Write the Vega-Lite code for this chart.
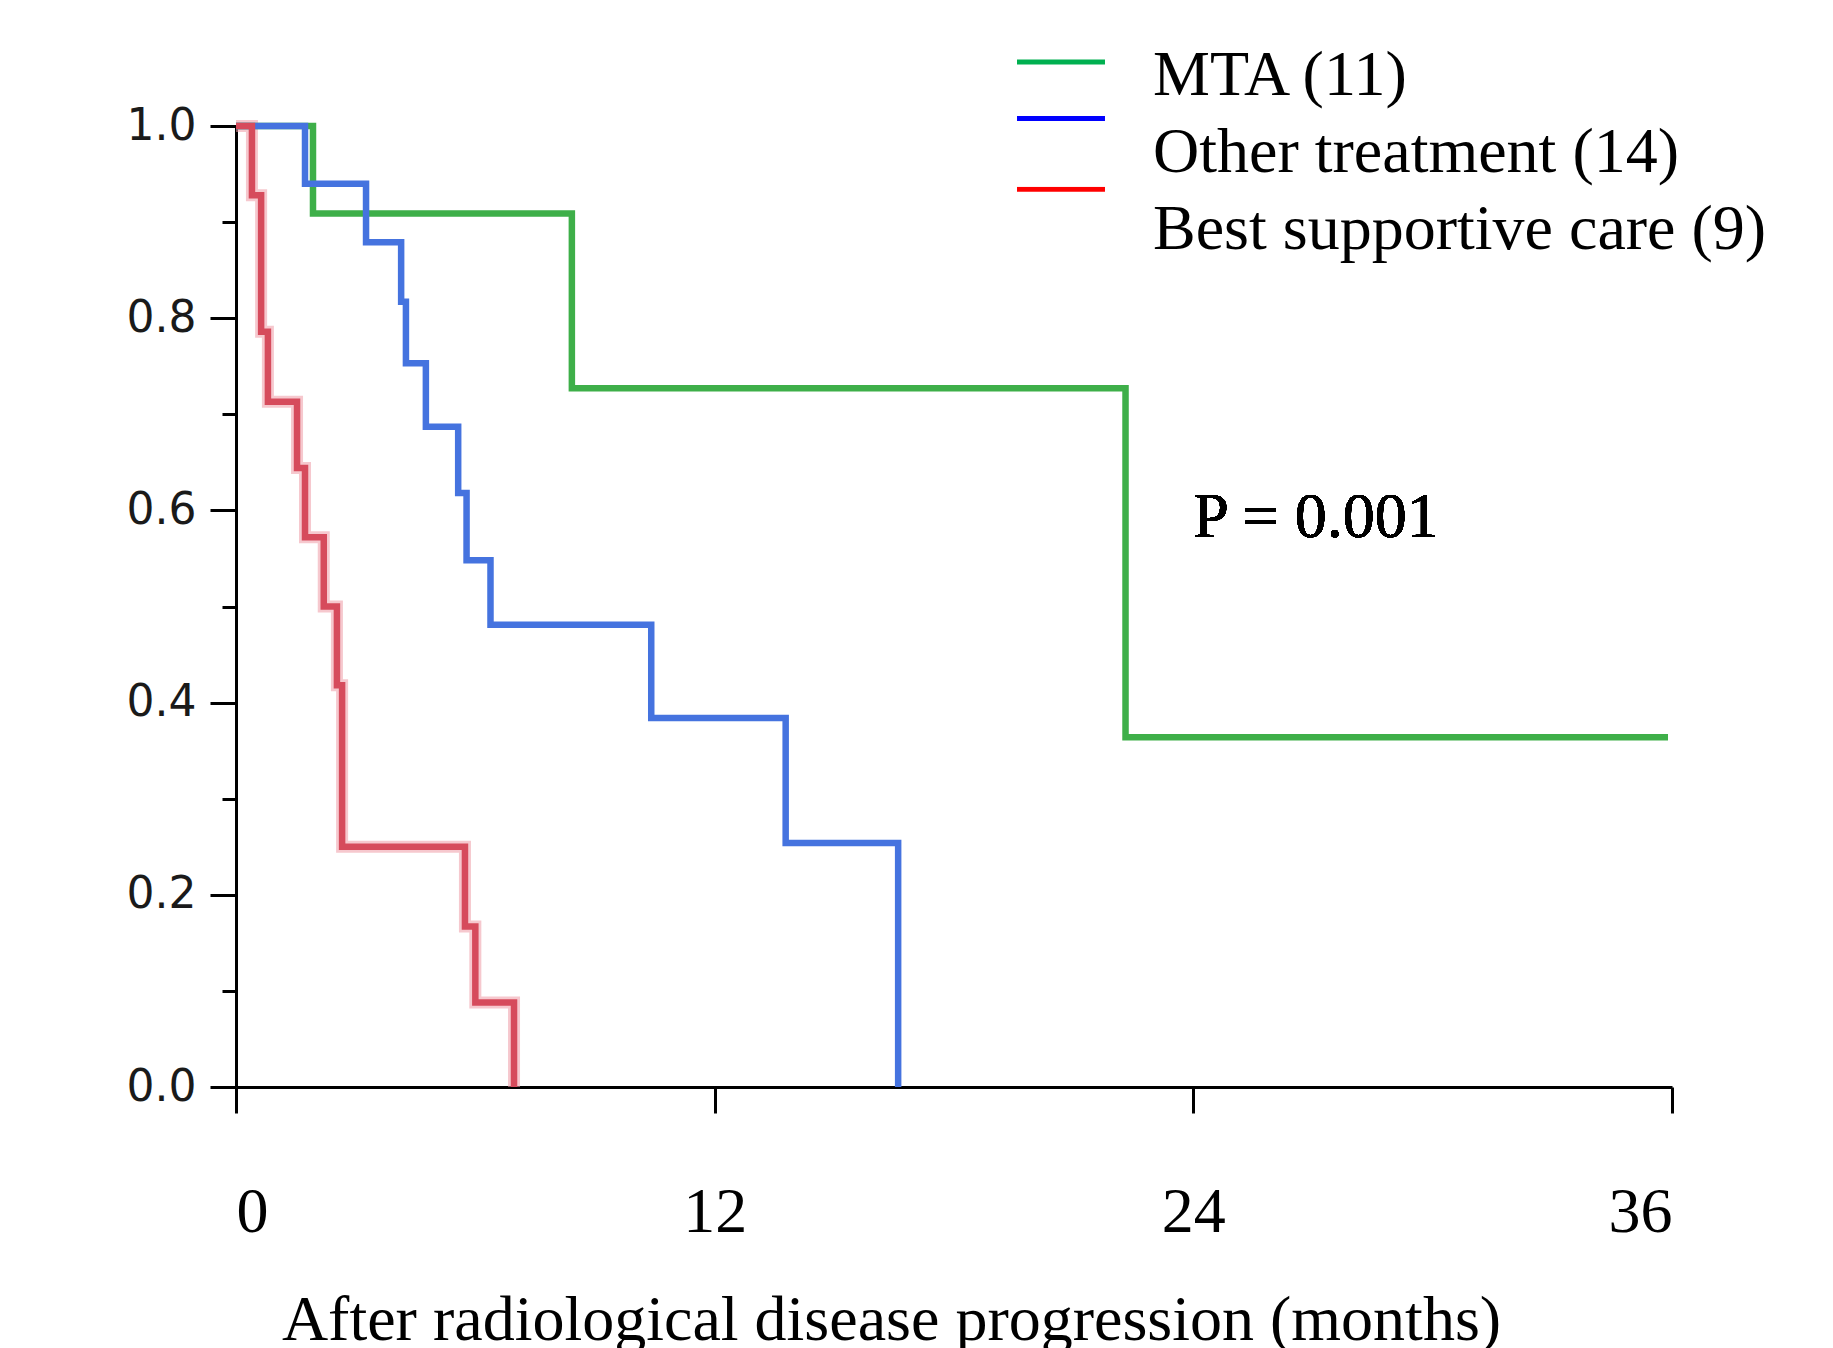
{
  "$schema": "https://vega.github.io/schema/vega-lite/v6.json",
  "width": 1436,
  "height": 961,
  "autosize": {"type": "none"},
  "padding": {"left": 236, "top": 126, "right": 161, "bottom": 261},
  "background": "white",
  "config": {"view": {"stroke": null}},
  "data": {
    "values": [
      {"group": "MTA (11)", "time": 0, "surv": 1.0},
      {"group": "MTA (11)", "time": 1.93, "surv": 0.909},
      {"group": "MTA (11)", "time": 8.42, "surv": 0.727},
      {"group": "MTA (11)", "time": 22.3, "surv": 0.364},
      {"group": "MTA (11)", "time": 35.9, "surv": 0.364},
      {"group": "Other treatment (14)", "time": 0, "surv": 1.0},
      {"group": "Other treatment (14)", "time": 1.73, "surv": 0.94},
      {"group": "Other treatment (14)", "time": 3.26, "surv": 0.879},
      {"group": "Other treatment (14)", "time": 4.14, "surv": 0.817},
      {"group": "Other treatment (14)", "time": 4.26, "surv": 0.753},
      {"group": "Other treatment (14)", "time": 4.76, "surv": 0.687},
      {"group": "Other treatment (14)", "time": 5.57, "surv": 0.618},
      {"group": "Other treatment (14)", "time": 5.78, "surv": 0.548},
      {"group": "Other treatment (14)", "time": 6.38, "surv": 0.481},
      {"group": "Other treatment (14)", "time": 10.41, "surv": 0.384},
      {"group": "Other treatment (14)", "time": 13.78, "surv": 0.254},
      {"group": "Other treatment (14)", "time": 16.6, "surv": 0.0},
      {"group": "Best supportive care (9)", "time": 0, "surv": 1.0},
      {"group": "Best supportive care (9)", "time": 0.4, "surv": 0.928},
      {"group": "Best supportive care (9)", "time": 0.63, "surv": 0.786},
      {"group": "Best supportive care (9)", "time": 0.8, "surv": 0.713},
      {"group": "Best supportive care (9)", "time": 1.53, "surv": 0.644},
      {"group": "Best supportive care (9)", "time": 1.73, "surv": 0.572},
      {"group": "Best supportive care (9)", "time": 2.2, "surv": 0.5},
      {"group": "Best supportive care (9)", "time": 2.53, "surv": 0.418},
      {"group": "Best supportive care (9)", "time": 2.66, "surv": 0.25},
      {"group": "Best supportive care (9)", "time": 5.74, "surv": 0.167},
      {"group": "Best supportive care (9)", "time": 6.0, "surv": 0.088},
      {"group": "Best supportive care (9)", "time": 6.97, "surv": 0.0}
    ]
  },
  "encoding": {
    "x": {
      "field": "time", "type": "quantitative",
      "scale": {"domain": [0, 36], "nice": false, "zero": false},
      "axis": {
        "values": [0, 12, 24, 36],
        "grid": false,
        "domainColor": "black", "domainWidth": 3,
        "tickColor": "black", "tickWidth": 3, "tickSize": 26,
        "labelFont": "Liberation Serif", "labelFontSize": 64, "labelColor": "black",
        "labelPadding": 67, "labelFlush": true,
        "title": "After radiological disease progression (months)",
        "titleFont": "Liberation Serif", "titleFontSize": 64, "titleFontWeight": "normal", "titleColor": "black",
        "titleBaseline": "alphabetic", "titleAlign": "center", "titleX": 655, "titleY": 252
      }
    },
    "y": {
      "field": "surv", "type": "quantitative",
      "scale": {"domain": [0, 1], "nice": false},
      "axis": {
        "values": [0, 0.1, 0.2, 0.3, 0.4, 0.5, 0.6, 0.7, 0.8, 0.9, 1.0],
        "format": ".1f",
        "labelExpr": "round(datum.value*10) % 2 == 0 ? datum.label : ''",
        "grid": false,
        "domainColor": "black", "domainWidth": 3,
        "tickColor": "black", "tickWidth": 3,
        "tickSize": {"condition": {"test": "round(datum.value*10) % 2 == 1", "value": 14}, "value": 26},
        "labelFont": "DejaVu Sans", "labelFontSize": 44, "labelColor": "#1a1a1a",
        "labelPadding": 14,
        "title": null
      }
    }
  },
  "layer": [
    {
      "transform": [{"filter": "datum.group == 'Best supportive care (9)'"}],
      "mark": {"type": "line", "interpolate": "step-after", "strokeWidth": 12, "color": "#EE9AA5", "opacity": 0.55, "clip": false},
      "encoding": {"detail": {"field": "group"}}
    },
    {
      "mark": {"type": "line", "interpolate": "step-after", "strokeWidth": 6.5, "clip": false},
      "encoding": {
        "color": {
          "field": "group", "type": "nominal",
          "scale": {"domain": ["MTA (11)", "Other treatment (14)", "Best supportive care (9)"], "range": ["#3EAF49", "#4573DF", "#D64B5C"]},
          "legend": null
        }
      }
    },
    {
      "transform": [{"filter": "datum.time == 0"}],
      "mark": {"type": "line", "strokeWidth": 5},
      "encoding": {
        "color": {
          "field": "group", "type": "nominal",
          "scale": {"domain": ["MTA (11)", "Other treatment (14)", "Best supportive care (9)"], "range": ["#00B050", "#0000FF", "#FF0000"]},
          "legend": {
            "title": null,
            "orient": "none",
            "legendX": 765,
            "legendY": -93.3,
            "padding": 0,
            "clipHeight": 76.6,
            "symbolType": "M-3,0H3",
            "symbolSize": 860,
            "symbolStrokeWidth": 5,
            "symbolOffset": 28,
            "labelOffset": 60,
            "labelFont": "Liberation Serif",
            "labelFontSize": 64,
            "labelColor": "black",
            "labelLimit": 1000,
            "rowPadding": 0,
            "encoding": {
              "labels": {"dy": {"value": 5}},
              "symbols": {"y": {"value": {"expr": "max(2.5, 29.3 - datum.index * 20.6)"}}}
            }
          }
        }
      }
    },
    {
      "mark": {"type": "text", "text": "P = 0.001", "font": "Liberation Serif", "fontSize": 64, "align": "left", "baseline": "alphabetic", "color": "black"},
      "encoding": {
        "x": {"datum": 24.0},
        "y": {"datum": 0.572}
      }
    }
  ],
  "resolve": {"scale": {"color": "independent"}}
}
